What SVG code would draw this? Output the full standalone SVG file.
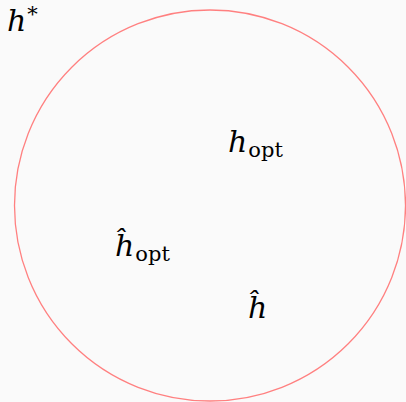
<svg xmlns="http://www.w3.org/2000/svg" width="406" height="402" viewBox="0 0 406 402">
<style>
text{font-family:'DejaVu Serif',serif;font-style:italic;font-size:30px;fill:#000}
.s{font-style:normal;font-size:21px}
</style>
<rect width="406" height="402" fill="#fafafa"/>
<g id="circle"><circle cx="210" cy="205.5" r="195.5" fill="none" stroke="#ff8080" stroke-width="1.3"/></g>
<g id="hstar"><text x="7" y="31">h<tspan class="s" dx="1" dy="-10">*</tspan></text></g>
<g id="hopt"><text x="228" y="152">h<tspan class="s" dx="1" dy="5">opt</tspan></text></g>
<g id="hhatopt"><text x="115" y="256">ĥ<tspan class="s" dx="1" dy="5">opt</tspan></text></g>
<g id="hhat"><text x="248" y="318">ĥ</text></g>
<g id="connectors"/>
</svg>
